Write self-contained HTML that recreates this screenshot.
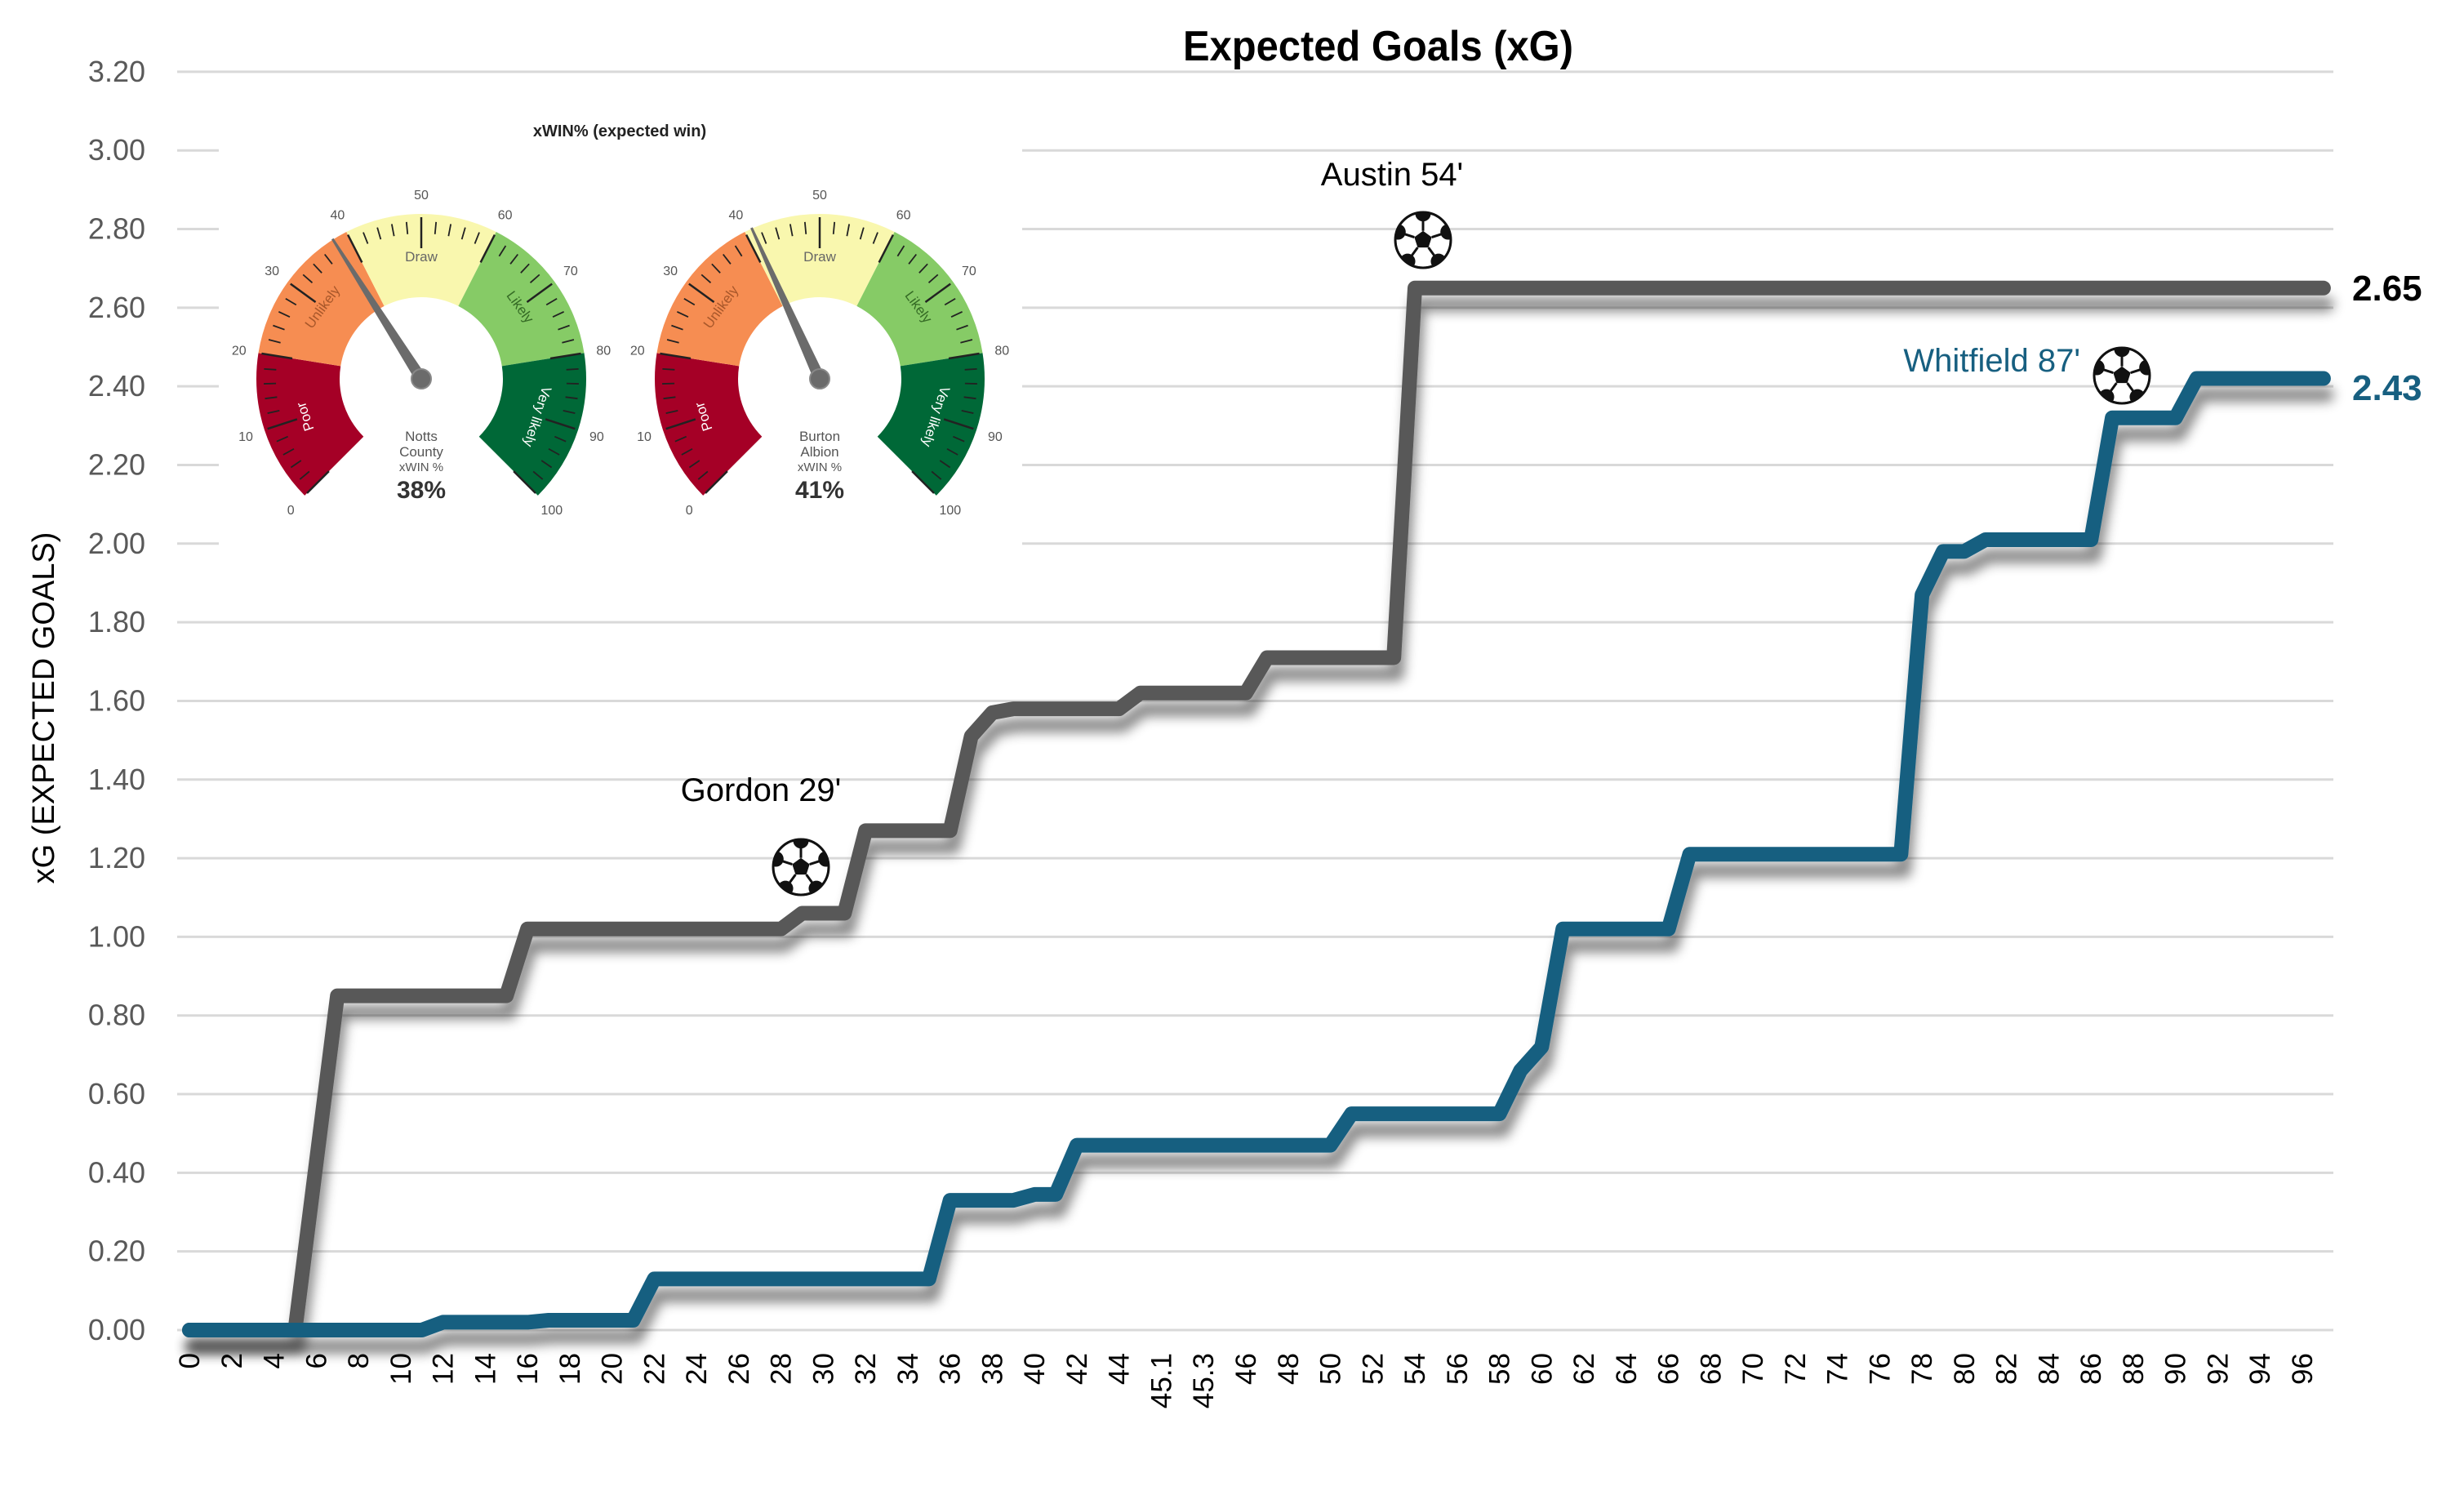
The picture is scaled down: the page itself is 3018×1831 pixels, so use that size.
<!DOCTYPE html>
<html><head><meta charset="utf-8"><style>
html,body{margin:0;padding:0;background:#fff;}
svg{display:block;font-family:"Liberation Sans",sans-serif;}
</style></head><body>
<svg id="s" width="3018" height="1831" viewBox="0 0 3018 1831" xmlns="http://www.w3.org/2000/svg">
<defs>
<filter id="sh" x="-5%" y="-5%" width="110%" height="120%">
<feDropShadow dx="4" dy="20" stdDeviation="7" flood-color="#000" flood-opacity="0.45"/>
</filter>
</defs>
<rect width="3018" height="1831" fill="#fff"/>
<g id="grid" stroke="#d9d9d9" stroke-width="3"></g>
<g id="ylab" font-size="36" fill="#595959" text-anchor="end"></g>
<g id="xlab" font-size="35" fill="#000"></g>
<text x="1688" y="74" font-size="52" font-weight="bold" text-anchor="middle" fill="#000" transform="translate(1688 0) scale(0.94 1) translate(-1688 0)">Expected Goals (xG)</text>
<text transform="translate(66 867) rotate(-90)" font-size="38" text-anchor="middle" fill="#000">xG (EXPECTED GOALS)</text>
<rect x="268" y="110" width="984" height="590" fill="#fff"/>
<g id="gauges"></g>
<polyline filter="url(#sh)" fill="none" stroke="#595959" stroke-width="18" stroke-linejoin="round" stroke-linecap="round"
points="232,1629 361.4,1629 413.2,1219.6 620.2,1219.6 646.1,1137.8 956.6,1137.8 982.5,1118.5 1034.3,1118.5 1060.2,1017.4 1163.7,1017.4 1189.6,901.8 1215.4,872.9 1241.3,868.1 1370.7,868.1 1396.6,848.8 1526,848.8 1551.9,805.5 1707.2,805.5 1733,352.8 2845.9,352.8"/>
<polyline filter="url(#sh)" fill="none" stroke="#175f80" stroke-width="18" stroke-linejoin="round" stroke-linecap="round"
points="232,1629 516.7,1629 542.6,1619.4 646.1,1619.4 672,1617 775.5,1617 801.4,1566.4 1137.8,1566.4 1163.7,1470.1 1241.3,1470.1 1267.2,1462.9 1293.1,1462.9 1319,1402.6 1629.5,1402.6 1655.4,1364.1 1836.6,1364.1 1862.4,1311.1 1888.3,1282.2 1914.2,1137.8 2043.6,1137.8 2069.5,1046.3 2328.3,1046.3 2354.2,728.4 2380,675.4 2405.9,675.4 2431.8,661 2561.2,661 2587.1,511.7 2664.7,511.7 2690.6,463.5 2845.9,463.5"/>
<text x="2881" y="368" font-size="44" font-weight="bold" fill="#000">2.65</text>
<text x="2881" y="490" font-size="44" font-weight="bold" fill="#175f80">2.43</text>
<text x="932" y="981" font-size="40" text-anchor="middle" fill="#000">Gordon 29'</text>
<text x="1705" y="227" font-size="40" text-anchor="middle" fill="#000">Austin 54'</text>
<text x="2548" y="455" font-size="40" text-anchor="end" fill="#175f80">Whitfield 87'</text>
<g id="balls"></g>
</svg>
<script>
var NS="http://www.w3.org/2000/svg";
function el(p,t,a,txt){var e=document.createElementNS(NS,t);for(var k in a)e.setAttribute(k,a[k]);if(txt!==undefined)e.textContent=txt;p.appendChild(e);return e;}
var g=document.getElementById('grid'),yl=document.getElementById('ylab'),xl=document.getElementById('xlab');
for(var i=0;i<=16;i++){var v=i*0.2,y=1629-481.6*v;el(g,'line',{x1:217,x2:2858,y1:y,y2:y});el(yl,'text',{x:178,y:y+12},v.toFixed(2));}
var labs=[];for(var m=0;m<=44;m+=2)labs.push([m,''+m]);labs.push([46,'45.1']);labs.push([48,'45.3']);
for(var m=46;m<=96;m+=2)labs.push([m+4,''+m]);
labs.forEach(function(l){var x=232+25.88*l[0]+12;el(xl,'text',{transform:'translate('+x+' 1657) rotate(-90)','text-anchor':'end'},l[1]);});
var bl=document.getElementById('balls');
function ball(cx,cy,r){
 el(bl,'circle',{cx:cx,cy:cy,r:r,fill:'#fff',stroke:'#111','stroke-width':3});
 var p=[];for(var k=0;k<5;k++){var a=(-90+72*k)*Math.PI/180;p.push((cx+r*0.33*Math.cos(a))+','+(cy+r*0.33*Math.sin(a)));}
 el(bl,'polygon',{points:p.join(' '),fill:'#111'});
 for(var k=0;k<5;k++){var a=(-90+72*k)*Math.PI/180;var px=cx+r*0.95*Math.cos(a),py=cy+r*0.95*Math.sin(a);
  el(bl,'line',{x1:cx+r*0.33*Math.cos(a),y1:cy+r*0.33*Math.sin(a),x2:px,y2:py,stroke:'#111','stroke-width':3});
  el(bl,'circle',{cx:px,cy:py,r:r*0.28,fill:'#111'});}
}
[[981,1062],[1743,294],[2599,460]].forEach(function(b,i){
 var c=el(document.querySelector('defs'),'clipPath',{id:'bc'+i});el(c,'circle',{cx:b[0],cy:b[1],r:33});
});
[[981,1062],[1743,294],[2599,460]].forEach(function(b,i){
 var gg=el(bl,'g',{'clip-path':'url(#bc'+i+')'});var save=bl;bl=gg;ball(b[0],b[1],34);bl=save;
 el(bl,'circle',{cx:b[0],cy:b[1],r:34,fill:'none',stroke:'#111','stroke-width':3});
});
var G=document.getElementById('gauges');
el(G,'text',{x:759,y:167,'font-size':20,'font-weight':'bold','text-anchor':'middle',fill:'#222'},'xWIN% (expected win)');
function pt(cx,cy,r,v){var t=(-135+2.7*v)*Math.PI/180;return [cx+r*Math.sin(t),cy-r*Math.cos(t)];}
function gauge(cx,cy,val,l1,l2){
 var z=[[0,20,'#a50026'],[20,40,'#f68d52'],[40,60,'#f9f7ae'],[60,80,'#86cb66'],[80,100,'#006837']];
 z.forEach(function(s){var a=pt(cx,cy,202,s[0]),b=pt(cx,cy,202,s[1]),c=pt(cx,cy,100,s[1]),d=pt(cx,cy,100,s[0]);
  el(G,'path',{d:'M'+a+' A202,202 0 0 1 '+b+' L'+c+' A100,100 0 0 0 '+d+' Z',fill:s[2]});});
 for(var v=0;v<=100;v+=2){var maj=v%10==0;var a=pt(cx,cy,maj?160:178,v),b=pt(cx,cy,maj?198:193,v);
  el(G,'line',{x1:a[0],y1:a[1],x2:b[0],y2:b[1],stroke:'#222','stroke-width':maj?2.5:1.8});}
 for(var v=0;v<=100;v+=10){var a=pt(cx,cy,226,v);el(G,'text',{x:a[0],y:a[1]+6,'font-size':16,fill:'#555','text-anchor':'middle'},''+v);}
 [['Poor',10,'#fff'],['Unlikely',30,'#a8572a'],['Draw',50,'#666'],['Likely',70,'#356b25'],['Very likely',90,'#fff']].forEach(function(q){
  var a=pt(cx,cy,150,q[1]);var ang=-135+2.7*q[1];
  el(G,'text',{transform:'translate('+a[0]+' '+a[1]+') rotate('+ang+')','font-size':17,fill:q[2],'text-anchor':'middle',y:6},q[0]);});
 var t=(-135+2.7*val)*Math.PI/180,tip=pt(cx,cy,203,val);
 var px=Math.cos(t),py=Math.sin(t);
 el(G,'polygon',{points:(cx+7*px)+','+(cy+7*py)+' '+(cx-7*px)+','+(cy-7*py)+' '+(tip[0]-1.5*px)+','+(tip[1]-1.5*py)+' '+(tip[0]+1.5*px)+','+(tip[1]+1.5*py),fill:'#6b6b6b'});
 el(G,'circle',{cx:cx,cy:cy,r:12,fill:'#6b6b6b',stroke:'#888','stroke-width':2});
 el(G,'text',{x:cx,y:cy+76,'font-size':17,fill:'#555','text-anchor':'middle'},l1);
 el(G,'text',{x:cx,y:cy+95,'font-size':17,fill:'#555','text-anchor':'middle'},l2);
 el(G,'text',{x:cx,y:cy+113,'font-size':15,fill:'#555','text-anchor':'middle'},'xWIN %');
 el(G,'text',{x:cx,y:cy+146,'font-size':30,'font-weight':'bold',fill:'#333','text-anchor':'middle'},val+'%');
}
gauge(516,464,38,'Notts','County');
gauge(1004,464,41,'Burton','Albion');
</script>
</body></html>
